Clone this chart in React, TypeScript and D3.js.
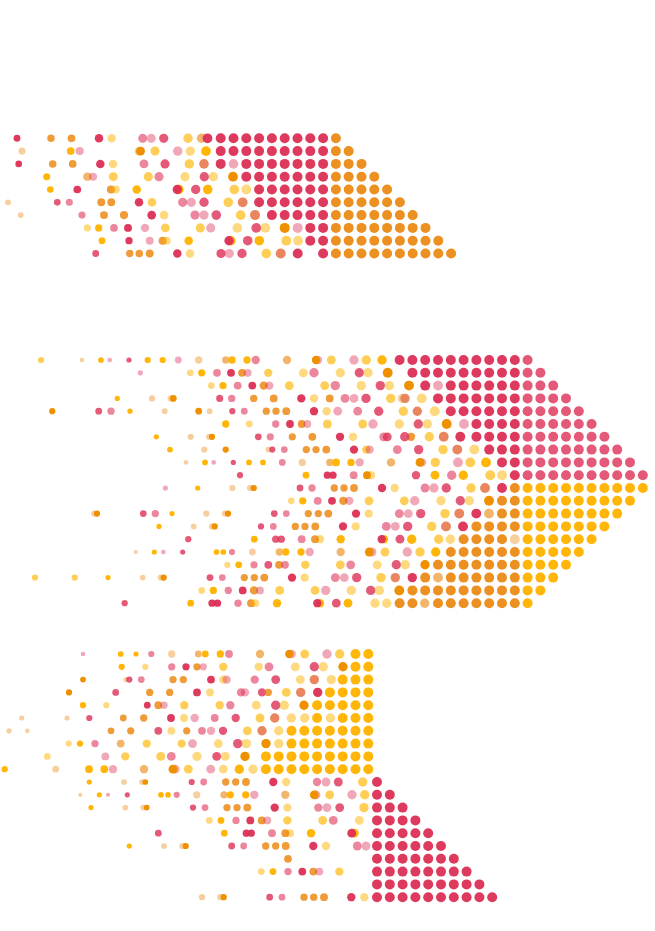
import React from 'react';
import * as d3 from 'd3';

type Dot = [number, string, number];
type Run = [number, number, number, string];

// each row: [position, kind, size]
const upperDots: Dot[][] = [
  [[17,'R',6.6],[51,'o',7.2],[71.5,'o',7.4],[99,'R',8.2],[111.7,'l',8.2],[142.7,'r',8.6],[151.3,'p',8.6],[163.7,'S',8.8],[188,'Y',9],[201.5,'n',9],[207.5,'R',9.4]],
  [[22,'q',6.8],[70.7,'A',7.4],[79.7,'p',7.8],[139,'q',8.6],[140.5,'O',8.6],[155,'Y',8.8],[177.7,'p',9],[190.3,'l',9],[206,'A',9.4]],
  [[18.7,'R',6.4],[52.7,'o',7.2],[72.7,'o',7.4],[100.3,'R',8.2],[113,'l',8.2],[144,'r',8.6],[165,'S',8.8],[189.3,'Y',9],[204,'E',9.2],[233.5,'p',9.2]],
  [[46.7,'A',6.8],[87.3,'n',8],[93,'p',7.8],[113.3,'Y',8.6],[148.3,'Y',8.8],[159,'r',8.8],[185,'l',9],[204.3,'S',9],[213.3,'l',9],[233,'O',9.4]],
  [[50.3,'A',6.4],[77.3,'R',7.4],[111,'o',7.8],[115.7,'l',7.8],[136.7,'A',8.2],[179,'A',9],[177.3,'R',9],[195.7,'S',9],[207.7,'A',9.2],[234.3,'Y',9.2],[246.3,'l',9.4]],
  [[8,'q',5.6],[57.3,'S',6.4],[69.3,'r',6.8],[101.3,'o',7.6],[111.3,'o',7.6],[139,'R',8.2],[152,'Y',8.2],[182.7,'r',8.8],[191.3,'p',8.8],[204,'S',9],[228.3,'Y',9.2],[242.7,'E',9.4]],
  [[20.7,'q',5.6],[82,'r',6.8],[104,'o',7.6],[124,'o',7.8],[151.7,'R',8.4],[164,'l',8.4],[195,'r',8.8],[204,'p',8.8],[216.3,'S',9.2],[240.7,'Y',9.4],[255,'E',9.6]],
  [[87.3,'l',6.8],[98.7,'A',7],[114,'r',7.4],[128,'R',7.6],[145,'p',8],[165.3,'Y',8.4],[200.3,'Y',8.8],[210.7,'p',8.8],[237.3,'l',9.2],[256.3,'S',9.4],[265.3,'l',9.4],[284.7,'O',9.6],[297.7,'p',9.6]],
  [[102,'A',6.6],[129,'R',7],[149.7,'p',7.6],[162.7,'o',7.8],[166.7,'l',7.8],[188.7,'A',8.2],[231,'A',9],[229,'R',9],[247.7,'S',9.2],[259.3,'A',9.2],[286.3,'Y',9.4],[298,'l',9.4]],
  [[95.7,'S',6.6],[129.7,'o',7],[139.3,'o',7.2],[149.7,'o',7.6],[177.3,'R',8.2],[190,'l',8.2],[221,'S',8.8],[229.3,'p',8.8],[242,'S',9],[266.3,'Y',9.2],[280.7,'E',9.6],[297.7,'R',9.6]],
];
const upperRuns: Run[] = [
  [0,0,9,'R'],[0,9,1,'G'],[1,0,9,'R'],[1,9,2,'G'],[2,0,1,'R'],[2,2,7,'R'],[2,9,3,'G'],[3,2,7,'R'],[3,9,4,'G'],
  [4,3,6,'R'],[4,9,5,'G'],[5,3,6,'R'],[5,9,6,'G'],[6,4,5,'R'],[6,9,7,'G'],[7,7,2,'R'],[7,9,8,'G'],
  [8,7,2,'R'],[8,9,9,'G'],[9,8,1,'R'],[9,9,10,'G'],
];

const middleDots: Dot[][] = [
  [[41,'Y',6],[82,'q',4.5],[101,'A',5.5],[109.7,'p',4.5],[129,'S',5],[147.7,'A',6],[162.7,'A',6],[178.3,'p',6.5],[198.7,'q',7],[225.7,'n',7],[232,'A',7],[247,'A',7],[255.7,'r',8],[287,'n',8],[318,'p',8],[316,'O',8],[331.3,'Y',8.5],[354,'p',9],[366.3,'Y',9],[382,'A',9]],
  [[140.3,'p',5],[190.3,'l',6.5],[201.7,'A',7],[217,'r',7.5],[231,'R',7.5],[242,'o',7.5],[247.7,'p',7.5],[268.3,'Y',8],[303.3,'l',8.5],[314,'r',9],[340.3,'l',9],[359.3,'S',9],[368,'l',9],[387.7,'O',9.5]],
  [[211.3,'l',6.5],[223,'A',7],[237.7,'r',7.5],[252.3,'R',7.5],[263.7,'o',8],[269.3,'p',8],[289.3,'Y',8.5],[324.7,'Y',8.5],[335.3,'r',9],[361.3,'l',9],[380.3,'S',9],[389.3,'l',9],[409,'O',9.5],[438,'p',9.5]],
  [[117.3,'A',5],[152,'q',6],[170.7,'q',6],[173.3,'O',6.5],[219.7,'S',6.8],[231.7,'r',7],[253.7,'o',7],[273.7,'o',7.5],[301.3,'R',8],[314,'l',8],[329.7,'o',7.5],[345,'r',8.5],[354,'p',8.5],[366,'S',9],[390.7,'Y',9],[402.5,'q',9],[405,'E',9],[421.7,'l',9.5]],
  [[52.3,'O',6],[98.7,'S',6.5],[111,'r',7],[130,'A',5],[164.7,'q',5.5],[198.7,'O',6.5],[209.7,'q',5.5],[232.3,'S',6],[244.3,'r',6.5],[266.3,'o',7],[276,'o',7],[286.3,'o',7.5],[314,'R',8],[326.7,'l',8],[337.7,'p',8.5],[357.7,'r',8.5],[378.7,'S',9],[403.3,'Y',9],[417.3,'E',9],[434.7,'l',9.5]],
  [[225.7,'A',7],[249.3,'l',6.5],[275.7,'r',7],[290,'R',7.5],[301.7,'o',7.5],[307.3,'p',7.5],[327.3,'Y',8.5],[362.7,'Y',8.5],[373,'p',9],[399.3,'l',9],[418.3,'S',9],[427.3,'l',9],[446.7,'O',9.5],[464,'p',9.5]],
  [[156.3,'A',5],[190.7,'q',6],[209,'q',6],[212,'O',6],[258.3,'S',6.5],[270.3,'r',7],[292.3,'o',7],[312.3,'o',7.5],[340,'R',8],[353,'l',8],[383.7,'r',8.5],[387.3,'S',8.5],[411,'o',8],[404.7,'S',9],[429.3,'Y',9],[443.7,'E',9.5],[460.3,'R',9.5]],
  [[170,'A',5.5],[204.3,'q',6],[225.7,'O',6],[268.3,'q',5.5],[272.3,'S',6],[284.3,'r',6.5],[306.3,'o',7],[316,'o',7],[326.3,'o',7.5],[354,'R',8],[366.3,'Y',8],[369.7,'p',8],[397.3,'r',8.5],[418.7,'S',9],[443,'Y',9],[457.3,'E',9.5],[474.3,'l',9.5]],
  [[186,'q',4.5],[205,'A',5.5],[213.7,'p',4.5],[233.3,'S',5],[249,'A',5.5],[263,'A',5.5],[282.3,'r',6.5],[302.3,'q',7],[329.7,'n',7],[336,'A',7.5],[351,'A',7],[359.7,'p',8],[391,'n',8],[422,'p',8],[420,'O',8.5],[435.3,'Y',9],[458,'p',9.5],[470.3,'Y',9.5],[486,'A',9.5]],
  [[240,'S',6],[306,'A',6.5],[327.3,'R',7],[333,'R',7],[353.7,'r',7.5],[371,'l',8],[367,'O',7.5],[416,'S',8],[435,'A',8.5],[451.7,'r',9],[463.3,'A',9],[490.3,'Y',9.5],[502,'l',9.5]],
  [[165.3,'p',5],[197.7,'A',5],[232.3,'q',6],[250,'q',6],[253.7,'O',6],[300,'S',6.5],[312,'r',7],[334.3,'o',7],[344,'o',7],[354,'o',7.5],[382,'R',8],[394.7,'l',8],[425,'r',8.5],[434,'p',9],[446.3,'S',9],[471,'Y',9],[485,'E',9.5],[502,'R',9.5]],
  [[291.3,'l',6.5],[302.7,'A',7],[317.7,'r',7.5],[332,'R',7.5],[343.3,'o',8],[349.3,'p',8],[369,'Y',8.5],[404.3,'Y',8.5],[414.7,'p',9],[441,'l',9],[460.3,'S',9],[469.3,'l',9],[489,'O',9.5]],
  [[94.3,'q',6],[97,'O',6],[143.3,'S',6.5],[155.3,'r',7],[172,'A',5],[206.3,'q',6],[225,'q',6],[228,'O',6],[274.3,'S',6.5],[286.3,'r',6.5],[308.3,'o',7],[318.3,'o',7],[328.3,'o',7.5],[356,'R',8],[368.7,'l',8],[399.3,'r',8.5],[408.3,'p',8.5],[420.7,'S',9],[445,'Y',9],[459.3,'E',9.5],[476.3,'R',9.5],[489,'n',9.5]],
  [[159,'A',5],[193.7,'q',5.5],[212,'q',6],[214.7,'O',6],[261,'S',6],[273.3,'r',6.5],[295.3,'o',7],[305,'o',7],[315.3,'o',7.5],[343,'R',8],[355.7,'l',8],[386.3,'r',8.5],[395.3,'p',8.5],[407.7,'S',9],[431.7,'Y',9],[446,'E',9.5],[463,'R',9.5]],
  [[188.3,'S',6],[254.3,'A',6.5],[275.7,'S',7],[281.3,'S',7],[301.7,'r',7.5],[320,'l',8],[315,'o',7.5],[340.7,'A',8],[384,'A',8],[381.7,'R',8],[400,'S',8.5],[411.7,'A',9],[438.7,'Y',9],[450.3,'l',9],[514.8,'q',9.5]],
  [[135.7,'q',4],[154.3,'A',5],[163.3,'p',4.5],[182.7,'S',5],[216.5,'A',5.5],[223.3,'A',5.5],[232,'r',6],[252.3,'q',6.5],[279.3,'n',7],[285.7,'A',7],[301,'A',7],[309.7,'p',8],[340.7,'n',8],[372,'p',8.5],[369.3,'O',8.5],[385,'Y',8.5],[407.3,'p',9],[420,'Y',9],[435.7,'A',9]],
  [[227.3,'l',6],[238.7,'A',6.5],[254,'r',7],[268.3,'S',7.5],[279,'o',7.5],[285,'r',7.5],[305.3,'Y',8],[340.3,'Y',8.5],[350.7,'r',8.5],[377.3,'l',8.5],[396.3,'S',9],[405.3,'l',9],[425,'O',9]],
  [[35,'Y',6],[74.7,'Y',6],[108,'A',5],[142.7,'q',5.5],[160.7,'q',6],[163.7,'O',6],[210,'S',6.5],[222.3,'r',6.5],[244.3,'o',7],[254.3,'o',7],[264.3,'o',7.5],[292,'R',8],[304.7,'l',8],[335.3,'r',8.5],[344.3,'p',8.5],[356.7,'S',9],[381,'Y',9],[395.3,'E',9],[412.3,'R',9],[438,'n',9.5]],
  [[201.7,'l',6.5],[213.3,'A',7],[228.3,'r',7],[242.7,'R',7.5],[254,'o',8],[260,'p',7.5],[279.7,'Y',8.5],[315,'Y',8.5],[325.7,'p',9],[351.3,'l',9],[370.7,'S',9],[379.3,'l',9],[399.3,'O',9.5]],
  [[124.7,'S',6],[190.7,'A',6.5],[212,'R',7],[217.5,'R',7],[238,'r',7],[251,'o',7.5],[255.3,'l',7.5],[277,'A',8],[320,'A',8],[317.3,'R',8],[336.3,'S',8.5],[348,'A',8.5],[375,'l',9],[386.7,'l',9],[424.7,'n',9]],
];
const middleRuns: Run[] = [
  [0,-3,10,'R'],[0,7,1,'S'],[1,-2,9,'R'],[1,7,2,'S'],[2,-1,1,'R'],[2,1,6,'R'],[2,7,3,'S'],[3,0,7,'R'],[3,7,4,'S'],
  [4,1,6,'R'],[4,7,5,'S'],[5,3,4,'R'],[5,7,6,'S'],[6,3,4,'R'],[6,7,7,'S'],[7,4,3,'R'],[7,7,8,'S'],
  [8,5,2,'R'],[8,7,9,'S'],[9,6,1,'R'],[9,7,10,'S'],
  [10,6,1,'G'],[10,7,10,'A'],[11,5,2,'G'],[11,7,9,'A'],[12,5,2,'G'],[12,7,8,'A'],[13,3,4,'G'],[13,7,7,'A'],
  [14,2,4,'G'],[14,7,6,'A'],[15,1,6,'G'],[15,7,5,'A'],[16,0,7,'G'],[16,7,4,'A'],[17,-1,1,'G'],[17,1,6,'G'],[17,7,3,'A'],
  [18,-2,9,'G'],[18,7,2,'A'],[19,-3,2,'G'],[19,0,7,'G'],[19,7,1,'A'],
];

const lowerDots: Dot[][] = [
  [[83,'p',4.5],[120.7,'A',5.5],[136,'A',5],[151.3,'r',6],[171.7,'q',7],[198.3,'n',6.5],[205.3,'A',6.5],[220.3,'A',7],[229,'r',7.5],[260,'n',8],[291.7,'p',8],[289.3,'O',8],[304.7,'Y',8.5],[327,'p',9],[339.7,'Y',9]],
  [[121.7,'A',6],[145.3,'l',6],[171.7,'r',7],[186,'R',7],[197,'o',7],[203.3,'p',7],[223.3,'Y',8],[258.7,'l',8],[269,'r',8.5],[295.3,'l',8.5],[314.3,'S',9],[323.3,'l',9],[343,'O',9]],
  [[83,'O',5.5],[126,'q',5],[129.3,'S',6],[141.3,'r',6.5],[173,'o',7],[183.3,'o',7],[211,'R',7.5],[223.3,'l',8],[226.7,'p',8],[254.7,'r',8],[275.7,'S',8.5],[300.3,'l',8.5],[314.3,'E',9],[331.3,'l',9]],
  [[69,'O',6],[115.7,'S',6.5],[149.7,'o',7],[169.7,'o',7],[197,'R',7.5],[210,'l',7.5],[241,'r',8],[245,'p',8],[262,'S',8],[268.3,'o',7],[286.3,'Y',8.5],[300.7,'E',9],[317.7,'R',9]],
  [[83,'A',6],[106.3,'l',6],[147.3,'R',6.5],[158.3,'o',7.5],[164,'p',7],[184.3,'Y',8],[219.7,'Y',8],[230.3,'r',8],[256.3,'l',8.5],[275.7,'S',9],[284.3,'l',9],[304,'O',9]],
  [[21.7,'q',5],[67,'q',5],[89.3,'S',6],[123.3,'o',6.5],[143.7,'o',7],[171,'R',7.5],[184,'l',7.5],[194.7,'p',8],[214.7,'r',7.5],[235.7,'S',8],[260,'Y',8.5],[274.7,'E',9],[291.3,'l',9],[304.7,'l',9],[330.3,'l',9]],
  [[9,'q',5],[27.3,'q',4.5],[111,'o',6.5],[130.7,'o',7],[158.3,'S',7.5],[171.3,'l',7.5],[186.7,'o',7],[202,'r',7.5],[211,'p',8],[223,'S',8],[247.3,'Y',8.5],[262,'E',9],[278.7,'l',9]],
  [[68.7,'l',6],[80,'A',6],[95,'r',7],[120.7,'n',7.5],[146.7,'Y',8],[181.7,'Y',8],[192.5,'p',8.5],[218.3,'l',8.5],[237.7,'S',9],[246.3,'l',9],[266,'O',9],[278.7,'l',9]],
  [[47.3,'l',6.5],[105.3,'p',7.5],[125.3,'Y',8],[160.7,'Y',8.5],[171.3,'r',8.5],[197,'l',9],[216.7,'S',8.5],[225.3,'l',8.5],[245,'O',9]],
  [[4.7,'A',6],[55.7,'q',6.5],[89,'A',7.5],[104.3,'A',7.5],[113,'p',8],[144,'n',8],[175.3,'p',8.5],[173,'O',8.5],[188.3,'Y',8.5],[210.7,'p',8.5],[223.3,'l',8.5],[239.3,'A',9],[253,'l',9]],
  [[89.3,'A',5],[124,'q',5.5],[142,'q',5.5],[145.3,'O',5.5],[191.7,'S',6],[203.7,'r',6.5],[225.7,'o',7],[235.7,'o',7],[246,'o',7.5],[273.3,'R',8],[286.2,'l',8],[317,'r',8],[326,'p',8.5],[338.3,'S',8.5],[362.7,'Y',9]],
  [[80.3,'q',4],[99.3,'A',5],[108,'p',4],[127.3,'S',5],[161,'A',5.5],[168,'A',5.5],[176.7,'r',6],[196.7,'q',7],[224,'n',7],[230.3,'A',7],[245.7,'A',7],[254.3,'p',8],[285.3,'n',8],[316,'p',8.5],[314.3,'O',8.5],[329.7,'Y',8.5],[352,'p',9],[364.7,'Y',9]],
  [[91,'A',5],[125.3,'q',5.5],[143.3,'q',5.5],[146.7,'O',5.5],[193,'S',6],[205,'r',6.5],[227,'o',7],[237,'o',7],[247.3,'o',7.5],[274.7,'R',8],[287.3,'l',8],[318.3,'r',8],[327,'p',8.5],[339.7,'S',8.5],[364,'Y',9]],
  [[209.3,'l',6.5],[221,'A',6.5],[236,'r',7],[250.3,'R',7.5],[261.7,'o',7.5],[267.3,'p',7.5],[287.3,'Y',8],[322.7,'Y',8.5],[333.3,'r',8.5],[359.3,'l',8.5]],
  [[158.3,'S',6.5],[224.3,'A',6.5],[246.3,'R',7],[251.3,'R',7],[272,'r',7.5],[290,'l',7.5],[285.3,'o',7.5],[311,'A',8],[354.3,'A',8.5],[351.7,'R',8.5]],
  [[129.3,'A',5],[164,'q',5.5],[182.3,'q',6],[185.7,'O',6],[231.7,'S',6.5],[243.7,'r',6.5],[265.7,'o',7],[275.7,'o',7],[285.7,'o',7.5],[313.3,'R',8],[326,'l',8],[357.3,'r',8.5],[366,'p',8.5]],
  [[288,'o',7.5]],
  [[261.3,'l',6.5],[273,'A',6.5],[288,'r',7],[302.3,'R',7.5],[313.3,'o',7.5],[319.3,'p',7.5],[339.3,'Y',8]],
  [],
  [[202,'q',6],[220.3,'q',6],[223.7,'O',6],[269.7,'S',6.5],[282,'r',6.5],[304,'o',7],[313.7,'o',7],[324,'o',7.5],[351.3,'R',8],[364.3,'l',8]],
];
const lowerRuns: Run[] = [
  [0,-1,2,'A'],[1,-1,2,'A'],[2,-2,3,'A'],[3,-3,4,'A'],[4,-4,5,'A'],[5,-4,1,'A'],[5,-2,3,'A'],[6,-6,7,'A'],[7,-6,7,'A'],[8,-8,9,'A'],[9,-8,9,'A'],
  [10,0.68,1,'R'],[11,0.68,2,'R'],[12,0.68,3,'R'],[13,0.68,4,'R'],[14,0.68,5,'R'],[15,0.68,6,'R'],[16,0.68,7,'R'],[17,0.68,8,'R'],[18,0.68,9,'R'],[19,0.68,10,'R'],
];

const seriesColor: Record<string, string> = { crimson: '#dc2f55', orange: '#e97f00', amber: '#ffb400', deep: '#ee9000', mixed: '#e9845c' };
const kinds: Record<string, [string, number]> = {
  R: ['crimson', 0.95], S: ['crimson', 0.8], r: ['crimson', 0.58], p: ['crimson', 0.42],
  A: ['amber', 0.97], Y: ['amber', 0.66], l: ['amber', 0.5],
  O: ['deep', 1], G: ['orange', 0.87], o: ['orange', 0.78], n: ['orange', 0.58], q: ['orange', 0.38],
  E: ['mixed', 0.98],
};

const groups = [
  { dots: upperDots, runs: upperRuns, top: 138.3, col0: 220.7 },
  { dots: middleDots, runs: middleRuns, top: 360, col0: 438 },
  { dots: lowerDots, runs: lowerRuns, top: 654, col0: 368.3 },
];

const WIDTH = 655;
const HEIGHT = 931;
const STEP = 12.8;
const RUN_SIZE = 9.6;

const xScale = d3.scaleLinear().domain([0, WIDTH]).range([0, WIDTH]);
const rScale = d3.scaleLinear().domain([0, 10]).range([0, 5.2]);

function Group({ group }: { group: (typeof groups)[number] }) {
  const rowCount = group.dots.length;
  const yScale = d3.scaleLinear().domain([0, rowCount - 1]).range([group.top, group.top + (rowCount - 1) * STEP]);
  const colScale = d3.scaleLinear().domain([0, 1]).range([group.col0, group.col0 + STEP]);

  const all = [
    ...group.dots.flatMap((row, i) => row.map(([x, kind, size]) => ({ cx: xScale(x), cy: yScale(i), kind, size }))),
    ...group.runs.flatMap(([row, from, count, kind]) =>
      d3.range(count).map(k => ({ cx: colScale(from + k), cy: yScale(row), kind, size: RUN_SIZE }))),
  ];

  return (
    <g>
      {all.map((d, i) => (
        <circle
          key={i}
          cx={d.cx}
          cy={d.cy}
          r={rScale(d.size)}
          fill={seriesColor[kinds[d.kind][0]]}
          fillOpacity={kinds[d.kind][1]}
        />
      ))}
    </g>
  );
}

export default function App() {
  return (
    <svg width={WIDTH} height={HEIGHT} style={{ position: 'absolute', left: 0, top: 0, display: 'block' }}>
      <rect width={WIDTH} height={HEIGHT} fill="#fff" />
      {groups.map((g, i) => <Group key={i} group={g} />)}
    </svg>
  );
}
